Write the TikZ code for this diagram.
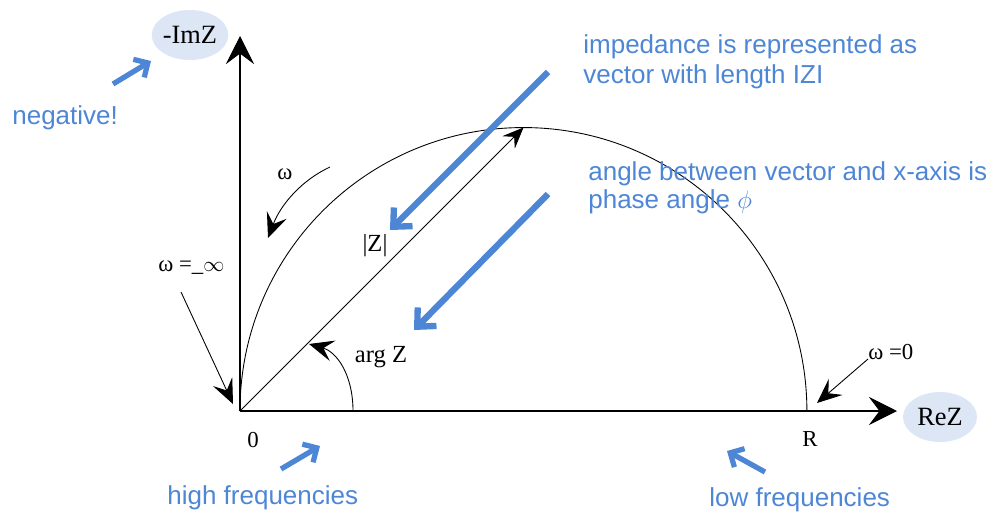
\documentclass[tikz,border=0pt]{standalone}
\usepackage{fontspec}
\setmainfont{Liberation Serif}
\newfontfamily\annfont{Liberation Sans}
\usetikzlibrary{arrows.meta,shapes.geometric}
\definecolor{annblue}{RGB}{78,134,214}
\definecolor{bubble}{RGB}{220,230,245}
\begin{document}
\begin{tikzpicture}[x=0.02cm,y=-0.02cm,
  axisarrow/.style={-{Stealth[length=16pt,width=16pt,inset=6pt]},line width=0.6pt},
  thinarrow/.style={-{Stealth[length=14pt,width=12pt,inset=5.5pt]},line width=0.5pt},
  bluearrow/.style={annblue,line width=3.6pt,-{Straight Barb[length=8pt,width=15pt]}},
  smallblue/.style={annblue,line width=3pt,-{Straight Barb[length=6pt,width=12pt]}},
  anntext/.style={annblue,font=\annfont\fontsize{14.8}{17}\selectfont,inner sep=0pt},
  bubblenode/.style={ellipse,fill=bubble,minimum width=1.48cm,minimum height=1.0cm,inner sep=0pt,font=\fontsize{15}{17}\selectfont},
  lbl/.style={inner sep=0pt,font=\fontsize{14}{16}\selectfont},
  small/.style={inner sep=0pt,font=\fontsize{13}{15}\selectfont}]
\useasboundingbox (0,0) rectangle (990,514);
% points
\coordinate (O) at (240,411);
\coordinate (Ytip) at (240,36);
\coordinate (Xtip) at (897,411);
\coordinate (Rpt) at (807,411);
\coordinate (Top) at (523.5,127.5);
% axes
\draw[axisarrow] (O) -- (Ytip);
\draw[axisarrow] (O) -- (Xtip);
% semicircle
\draw[line width=0.5pt] (O) arc[start angle=180,end angle=0,radius=5.67cm];
% vector
\draw[-{Stealth[length=12pt,width=10pt,inset=4.5pt]},line width=0.5pt] (O) -- (Top);
% arg Z arc
\coordinate (argA) at (353,411);
\coordinate (argB) at (309,344);
\draw[thinarrow] (argA) .. controls (353,375) and (337,352) .. (argB);
% omega arc
\coordinate (omA) at (330,167);
\coordinate (omB) at (268,238);
\draw[thinarrow] (omA) .. controls (302,180) and (281,204) .. (omB);
% omega = infinity arrow
\coordinate (oiA) at (181,292);
\coordinate (oiB) at (233,404);
\draw[thinarrow] (oiA) -- (oiB);
% omega = 0 arrow
\coordinate (ozA) at (868,359);
\coordinate (ozB) at (817,403);
\draw[thinarrow] (ozA) -- (ozB);
% black labels
\node[bubblenode] (imz) at (190,35) {-ImZ};
\node[bubblenode] (rez) at (940,417) {ReZ};
\node[lbl] (argz) at (381,357) {arg Z};
\node[lbl] (absz) at (375,246) {|Z|};
\node[small] (om) at (285,174) {ω};
\node[small,anchor=west] (ominf) at (158,268) {ω =\_$\infty$};
\node[small,anchor=west] (omzero) at (868,352) {ω =0};
\node[small] (zero) at (253,440) {0};
\node[small] (rlbl) at (810,439) {R};
% blue annotations
\node[anntext,anchor=base west] (t1a) at (583,53) {impedance is represented as};
\node[anntext,anchor=base west] (t1b) at (583,83) {vector with length IZI};
\node[anntext,anchor=base west] (t2a) at (588,180) {angle between vector and x-axis is};
\node[anntext,anchor=base west] (t2b) at (588,208) {phase angle $\phi$};
\node[anntext,anchor=base west] (neg) at (12,124) {negative!};
\node[anntext,anchor=base west] (hf) at (167,504) {high frequencies};
\node[anntext,anchor=base west] (lf) at (709,506) {low frequencies};
% blue arrows
\coordinate (b1A) at (548,72);
\coordinate (b1B) at (390,230);
\draw[bluearrow] (b1A) -- (b1B);
\coordinate (b2A) at (548,194);
\coordinate (b2B) at (414,330);
\draw[bluearrow] (b2A) -- (b2B);
\coordinate (nA) at (113,84);
\coordinate (nB) at (151,61);
\draw[smallblue] (nA) -- (nB);
\coordinate (hA) at (281,469);
\coordinate (hB) at (320,446);
\draw[smallblue] (hA) -- (hB);
\coordinate (lA) at (765,472);
\coordinate (lB) at (727,451);
\draw[smallblue] (lA) -- (lB);
\end{tikzpicture}
\end{document}
